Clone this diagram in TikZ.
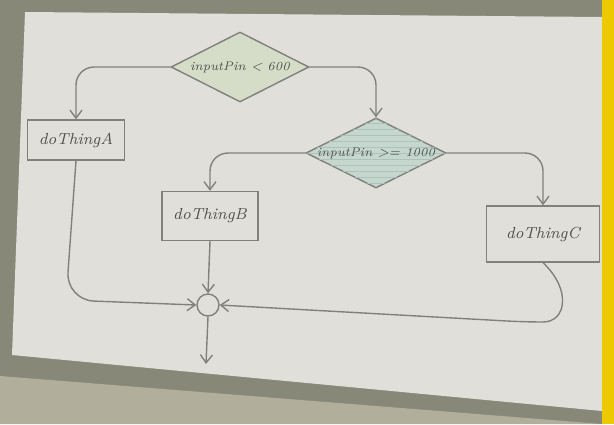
\documentclass[tikz,border=0pt]{standalone}
\usepackage{tikz}
\usetikzlibrary{arrows.meta, shapes.geometric, patterns}

\definecolor{wall}{RGB}{178,174,156}
\definecolor{frame}{RGB}{136,136,121}
\definecolor{board}{RGB}{225,223,218}
\definecolor{ink}{RGB}{128,128,125}
\definecolor{pen}{RGB}{78,78,76}
\definecolor{condA}{RGB}{213,220,199}
\definecolor{condB}{RGB}{198,215,208}
\definecolor{hatch}{RGB}{172,194,186}
\definecolor{tape}{RGB}{236,201,0}

\begin{document}
\begin{tikzpicture}[x=0.5pt, y=-0.5pt,
    >={Straight Barb[length=4pt, width=6pt]},
    link/.style={draw=ink, line width=0.7pt, ->, rounded corners=9pt},
    task/.style={draw=ink, line width=0.7pt, fill=board, font=\footnotesize\itshape, text=pen},
    cond/.style={diamond, aspect=2, draw=ink, line width=0.7pt, inner sep=0pt,
                 minimum width=69pt, minimum height=35pt,
                 font=\fontsize{6.2}{7}\selectfont\itshape, text=pen},
    mergedot/.style={circle, draw=ink, line width=0.7pt, inner sep=0pt, minimum size=11pt},
]
\useasboundingbox (0,0) rectangle (614,424);

% Wall, frame and screen
\fill[frame] (0,0) rectangle (614,424);
\fill[wall] (0,376) -- (602,424) -- (0,424) -- cycle;
\fill[board] (25,12) -- (602,17) -- (602,411) -- (12,355) -- cycle;
\fill[tape] (602,0) rectangle (614,424);

% --- Decisions
\node[cond, fill=condA] (lowpin) at (240,67) {inputPin < 600};
\node[cond, fill=condB, postaction={pattern=horizontal lines, pattern color=hatch}]
    (highpin) at (376,153) {inputPin >= 1000};

% --- Actions
\node[task, minimum width=48.5pt, minimum height=20pt] (thingA) at (76,140) {doThingA};
\node[task, minimum width=48pt, minimum height=24.5pt] (thingB) at (210,216) {doThingB};
\node[task, minimum width=56.5pt, minimum height=28pt] (thingC) at (543,234) {doThingC};

% --- Merge point
\node[mergedot, fill=board] (merge) at (208,305) {};
\coordinate (done) at (206,364);

% Branches
\draw[link] (lowpin.west) -| (thingA.north);
\draw[link] (lowpin.east) -| (highpin.north);
\draw[link] (highpin.west) -| (thingB.north);
\draw[link] (highpin.east) -| (thingC.north);

% Back to the merge point
\draw[link, rounded corners=14pt] (thingA.south) -- (66,300) -- (merge.west);
\draw[link] (thingB.south) -- (merge.north);
\draw[link] (thingC.south) .. controls (572,290) and (566,322) .. (525,322) -- (merge.east);
\draw[link] (merge.south) -- (done);

\end{tikzpicture}
\end{document}
